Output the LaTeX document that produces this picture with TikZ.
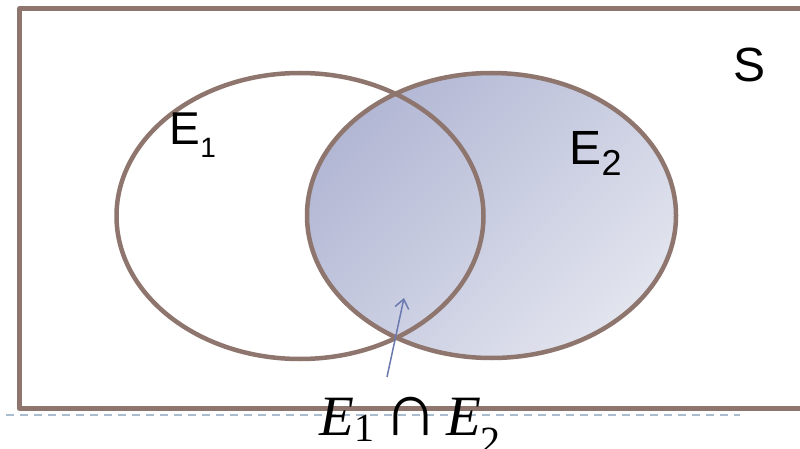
\documentclass[tikz,border=0pt]{standalone}
\usepackage{fontspec}
\setmainfont{Liberation Sans}
\newfontfamily\tnr{Liberation Serif}
\usetikzlibrary{arrows.meta}
\definecolor{bord}{HTML}{8E756D}
\definecolor{shA}{HTML}{B2B7D4}
\definecolor{shB}{HTML}{E2E4EE}
\definecolor{arrc}{HTML}{6A7AAE}
\definecolor{dashc}{HTML}{AABDD0}
\tikzset{
  outline/.style={draw=bord, line width=5pt},
  setlabel/.style={anchor=base west, inner sep=0pt, text=black},
}
\begin{document}
\begin{tikzpicture}[x=1pt,y=-1pt]
\useasboundingbox (0,0) rectangle (800,449);
\clip (0,0) rectangle (800,449);
\fill[white] (0,0) rectangle (800,449);
% dashed guide line
\coordinate (d0) at (6,415);
\coordinate (d1) at (740,415);
\draw[dashc, line width=2pt, dash pattern=on 8pt off 6pt] (d0) -- (d1);
% sample space
\draw[outline, line join=round] (810,8.5) -- (19.8,8.5) -- (19.8,408.5) -- (810,408.5);
% E2 shaded
\shade[top color=shA, bottom color=shB, shading angle=45] (491.5,215.5) ellipse [x radius=184.5, y radius=142.5];
\draw[outline, line width=4.5pt] (491.5,215.5) ellipse [x radius=184.5, y radius=142.5];
\draw[outline, line width=4.5pt] (300,216) ellipse [x radius=183.5, y radius=143];
% labels
\node[setlabel] (s) at (733,82) {\fontsize{48}{48}\selectfont S};
\node[setlabel] (e1) at (169.5,145) {\fontsize{46}{46}\selectfont E\raisebox{-13pt}{\fontsize{28}{28}\selectfont 1}};
\node[setlabel] (e2) at (569.5,165) {\fontsize{48}{48}\selectfont E\raisebox{-10pt}{\fontsize{36}{36}\selectfont 2}};
% arrow
\coordinate (a0) at (387,377);
\coordinate (a1) at (404,298);
\draw[arrc, line width=1.5pt, -{Straight Barb[length=9pt,width=14pt]}] (a0) -- (a1);
% intersection label
\node[setlabel] (cap) at (319,435) {\tnr\fontsize{57}{57}\selectfont\itshape E\upshape\raisebox{-6pt}{\fontsize{40}{40}\selectfont 1}\hspace{9pt}{\fontsize{76}{76}\selectfont ∩}\hspace{9pt}\itshape E\upshape\kern-1pt\raisebox{-19pt}{\fontsize{40}{40}\selectfont 2}};
\end{tikzpicture}
\end{document}
